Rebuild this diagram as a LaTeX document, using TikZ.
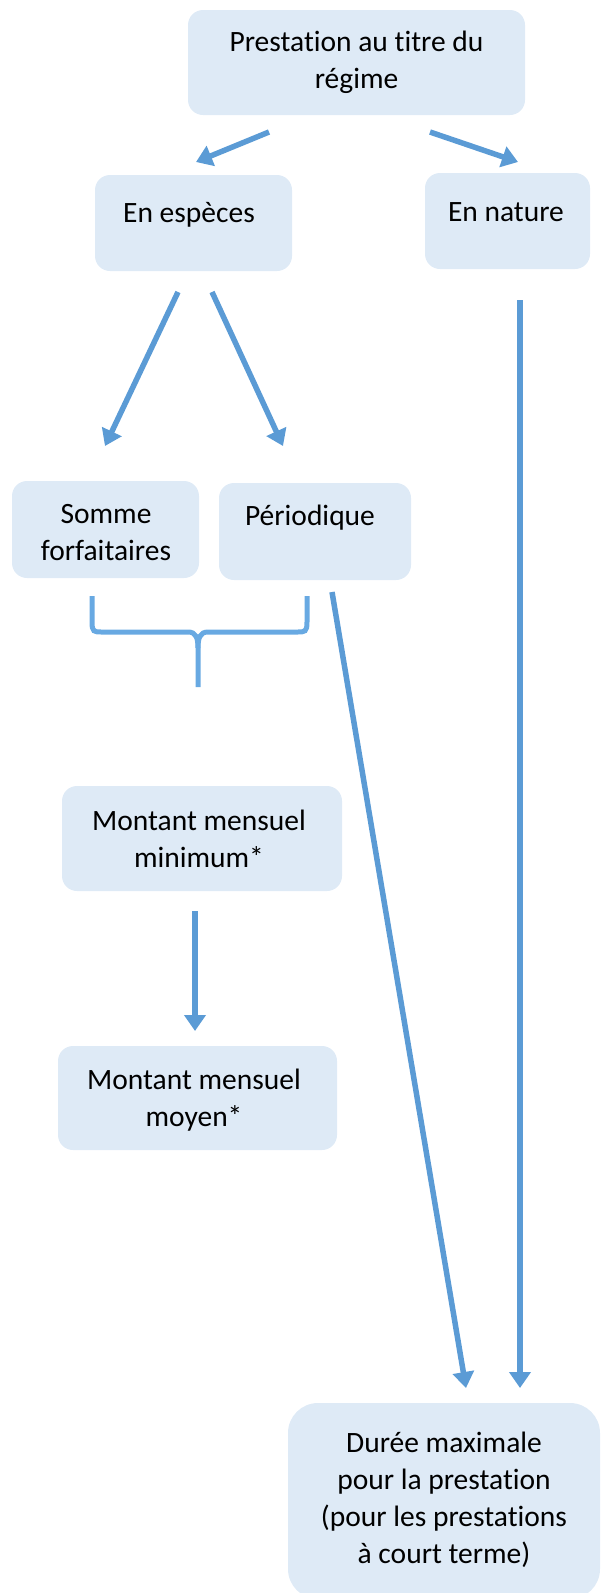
\documentclass[tikz,border=0pt]{standalone}
\usepackage{fontspec}
\setmainfont{Carlito}[Ligatures=NoCommon]
\usetikzlibrary{arrows.meta}
\definecolor{boxfill}{HTML}{DEEAF6}
\definecolor{linkblue}{HTML}{5B9BD5}
\definecolor{bracecol}{HTML}{68A9E2}
\begin{document}
\begin{tikzpicture}[x=1pt,y=-1pt,
  box/.style={fill=boxfill, draw=none, rounded corners=15pt, inner sep=0pt},
  txt/.style={align=center, inner sep=0pt, font=\fontsize{29.5}{37}\selectfont},
  link/.style={draw=linkblue, line width=5.5pt, -{Triangle[width=21pt,length=16pt]}},
  bracestyle/.style={draw=bracecol, line width=5pt}]
\useasboundingbox (0,0) rectangle (607,1593);

% boxes
\node[box, minimum width=337pt, minimum height=105pt] (top) at (356.5,62.5) {};
\node[box, minimum width=197pt, minimum height=96pt] (esp) at (193.5,223) {};
\node[box, minimum width=165pt, minimum height=96pt] (nat) at (507.5,221) {};
\node[box, minimum width=187pt, minimum height=97pt] (som) at (105.5,529.5) {};
\node[box, minimum width=192pt, minimum height=97pt] (per) at (315,531.5) {};
\node[box, minimum width=280pt, minimum height=105pt] (min) at (202,838.5) {};
\node[box, minimum width=279pt, minimum height=104pt] (moy) at (197.5,1098) {};
\node[box, minimum width=312pt, minimum height=196pt, rounded corners=30pt] (dur) at (444,1501) {};

% texts
\node[txt] (top-t) at (356.5,62) {Prestation au titre du\\régime};
\node[txt] (esp-t) at (189,215) {En espèces};
\node[txt] (nat-t) at (506,212) {En nature};
\node[txt] (som-t) at (106,533) {Somme\\forfaitaires};
\node[txt] (per-t) at (310,518) {Périodique};
\node[txt] (min-t) at (199,839) {Montant mensuel\\minimum*};
\node[txt] (moy-t) at (194,1100) {Montant mensuel\\moyen*};
\node[txt] (dur-t) at (444,1500) {Durée maximale\\pour la prestation\\(pour les prestations\\à court terme)};

% connector ends
\coordinate (a1s) at (269,132); \coordinate (a1e) at (196,162);
\coordinate (a2s) at (430,132); \coordinate (a2e) at (518,162);
\coordinate (a3s) at (178,292); \coordinate (a3e) at (105,446);
\coordinate (a4s) at (212,292); \coordinate (a4e) at (283,446);
\coordinate (a5s) at (520,300); \coordinate (a5e) at (520,1388);
\coordinate (a6s) at (332,592); \coordinate (a6e) at (466,1388);
\coordinate (a7s) at (195,911); \coordinate (a7e) at (195,1031);

\draw[link] (a1s) -- (a1e);
\draw[link] (a2s) -- (a2e);
\draw[link] (a3s) -- (a3e);
\draw[link] (a4s) -- (a4e);
\draw[link] (a5s) -- (a5e);
\draw[link] (a6s) -- (a6e);
\draw[link] (a7s) -- (a7e);

% brace under the two payment kinds
\coordinate (bl) at (92,596);
\coordinate (br) at (307,596);
\coordinate (bm) at (198,687);
\draw[bracestyle] (bl) -- (92,622) .. controls (92,632) and (94,632) .. (102,632)
  -- (188,632) .. controls (196,632) and (198,638) .. (198,648) -- (bm);
\draw[bracestyle] (br) -- (307,622) .. controls (307,632) and (305,632) .. (297,632)
  -- (208,632) .. controls (200,632) and (198,638) .. (198,648);
\end{tikzpicture}
\end{document}
